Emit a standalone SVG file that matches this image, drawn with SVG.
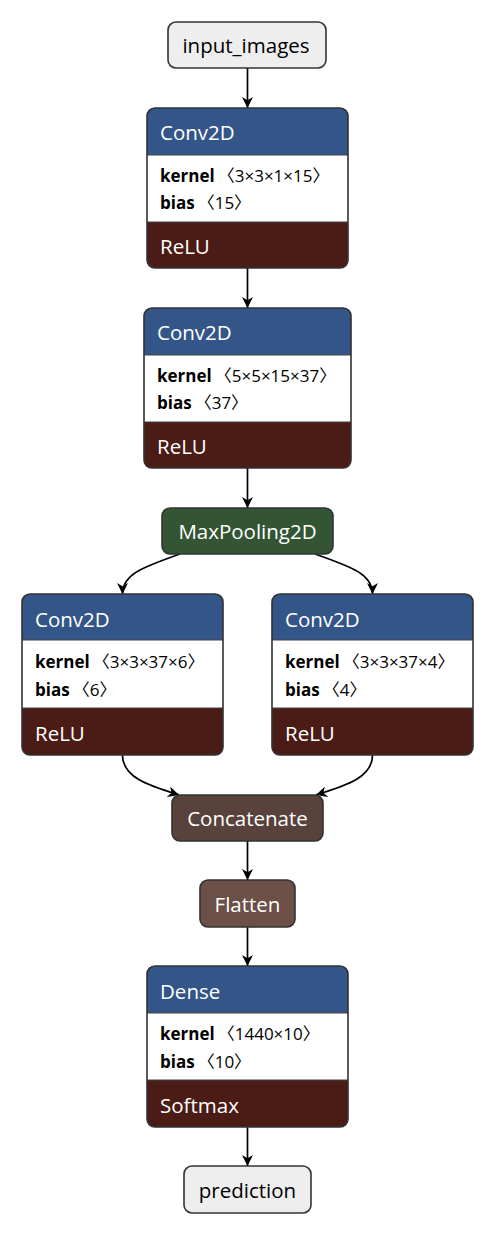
<svg xmlns="http://www.w3.org/2000/svg" width="496" height="1236" viewBox="0 0 496 1236">
<style>
text{font-family:"Open Sans","Noto Sans CJK SC",sans-serif}
.t{font-size:20.5px;fill:#fff}
.tc{font-size:20.5px;fill:#000;text-anchor:middle}
.tw{font-size:20.5px;fill:#fff;text-anchor:middle}
.a{font-size:17px;fill:#000}
.a .n{font-weight:bold}
.hd{fill:#335588}
.ac{fill:#4b1b16}
.bd{fill:none;stroke:#333;stroke-width:1.6}
.sep{stroke:#444;stroke-width:1.2}
.io{fill:#eeeeee;stroke:#333;stroke-width:1.6}
.edge{fill:none;stroke:#000;stroke-width:1.7}
</style>
<defs>
<marker id="arr" viewBox="0 0 10 10" refX="10" refY="5" markerWidth="11" markerHeight="11" markerUnits="userSpaceOnUse" orient="auto">
<path d="M0,0 L10,5 L0,10 L3,5 Z" fill="#000"/>
</marker>
</defs>
<g id="connectors">
<path class="edge" d="M247.5,68 V108" marker-end="url(#arr)"/>
<path class="edge" d="M247.5,268 V308" marker-end="url(#arr)"/>
<path class="edge" d="M247.5,468 V508" marker-end="url(#arr)"/>
<path class="edge" d="M180,554 C140,568 122.5,575 122.5,594" marker-end="url(#arr)"/>
<path class="edge" d="M315,554 C355,568 372.5,575 372.5,594" marker-end="url(#arr)"/>
<path class="edge" d="M122.5,755 C122.5,778 150,786 179,795" marker-end="url(#arr)"/>
<path class="edge" d="M372.5,755 C372.5,778 345,786 316,795" marker-end="url(#arr)"/>
<path class="edge" d="M247.5,841 V880" marker-end="url(#arr)"/>
<path class="edge" d="M247.5,927 V966" marker-end="url(#arr)"/>
<path class="edge" d="M247.5,1127 V1166" marker-end="url(#arr)"/>
</g>
<g id="input_images">
<rect class="io" x="168" y="22" width="158" height="46" rx="8"/>
<text class="tc" x="246" y="53">input_images</text>
</g>
<g id="conv2d_1">
<path class="hd" d="M147,155 V116 Q147,108 155,108 H340 Q348,108 348,116 V155 Z"/>
<rect x="147" y="155" width="201" height="67" fill="#fff"/>
<path class="ac" d="M147,222 H348 V260 Q348,268 340,268 H155 Q147,268 147,260 Z"/>
<line class="sep" x1="147" y1="155" x2="348" y2="155"/>
<line class="sep" x1="147" y1="222" x2="348" y2="222"/>
<rect class="bd" x="147" y="108" width="201" height="160" rx="8"/>
<text class="t" x="160" y="140">Conv2D</text>
<text class="a" x="160" y="182"><tspan class="n">kernel</tspan><tspan dx="3">〈3×3×1×15〉</tspan></text>
<text class="a" x="160" y="209"><tspan class="n">bias</tspan><tspan dx="3">〈15〉</tspan></text>
<text class="t" x="160" y="254">ReLU</text>
</g>
<g id="conv2d_2">
<path class="hd" d="M144,355 V316 Q144,308 152,308 H343 Q351,308 351,316 V355 Z"/>
<rect x="144" y="355" width="207" height="67" fill="#fff"/>
<path class="ac" d="M144,422 H351 V460 Q351,468 343,468 H152 Q144,468 144,460 Z"/>
<line class="sep" x1="144" y1="355" x2="351" y2="355"/>
<line class="sep" x1="144" y1="422" x2="351" y2="422"/>
<rect class="bd" x="144" y="308" width="207" height="160" rx="8"/>
<text class="t" x="157" y="340">Conv2D</text>
<text class="a" x="157" y="382"><tspan class="n">kernel</tspan><tspan dx="3">〈5×5×15×37〉</tspan></text>
<text class="a" x="157" y="409"><tspan class="n">bias</tspan><tspan dx="3">〈37〉</tspan></text>
<text class="t" x="157" y="454">ReLU</text>
</g>
<g id="maxpooling2d">
<rect x="162" y="508" width="171" height="46" rx="8" fill="#335533" stroke="#333" stroke-width="1.6"/>
<text class="tw" x="247.5" y="539">MaxPooling2D</text>
</g>
<g id="conv2d_left">
<path class="hd" d="M22,640 V602 Q22,594 30,594 H215 Q223,594 223,602 V640 Z"/>
<rect x="22" y="640" width="201" height="68" fill="#fff"/>
<path class="ac" d="M22,708 H223 V747 Q223,755 215,755 H30 Q22,755 22,747 Z"/>
<line class="sep" x1="22" y1="640" x2="223" y2="640"/>
<line class="sep" x1="22" y1="708" x2="223" y2="708"/>
<rect class="bd" x="22" y="594" width="201" height="161" rx="8"/>
<text class="t" x="35" y="627">Conv2D</text>
<text class="a" x="35" y="668"><tspan class="n">kernel</tspan><tspan dx="3">〈3×3×37×6〉</tspan></text>
<text class="a" x="35" y="696"><tspan class="n">bias</tspan><tspan dx="3">〈6〉</tspan></text>
<text class="t" x="35" y="741">ReLU</text>
</g>
<g id="conv2d_right">
<path class="hd" d="M272,640 V602 Q272,594 280,594 H465 Q473,594 473,602 V640 Z"/>
<rect x="272" y="640" width="201" height="68" fill="#fff"/>
<path class="ac" d="M272,708 H473 V747 Q473,755 465,755 H280 Q272,755 272,747 Z"/>
<line class="sep" x1="272" y1="640" x2="473" y2="640"/>
<line class="sep" x1="272" y1="708" x2="473" y2="708"/>
<rect class="bd" x="272" y="594" width="201" height="161" rx="8"/>
<text class="t" x="285" y="627">Conv2D</text>
<text class="a" x="285" y="668"><tspan class="n">kernel</tspan><tspan dx="3">〈3×3×37×4〉</tspan></text>
<text class="a" x="285" y="696"><tspan class="n">bias</tspan><tspan dx="3">〈4〉</tspan></text>
<text class="t" x="285" y="741">ReLU</text>
</g>
<g id="concatenate">
<rect x="172" y="795" width="151" height="46" rx="8" fill="#59423b" stroke="#333" stroke-width="1.6"/>
<text class="tw" x="247.5" y="826">Concatenate</text>
</g>
<g id="flatten">
<rect x="200" y="880" width="95" height="47" rx="8" fill="#6c4f47" stroke="#333" stroke-width="1.6"/>
<text class="tw" x="247.5" y="912">Flatten</text>
</g>
<g id="dense">
<path class="hd" d="M147,1013 V974 Q147,966 155,966 H340 Q348,966 348,974 V1013 Z"/>
<rect x="147" y="1013" width="201" height="67" fill="#fff"/>
<path class="ac" d="M147,1080 H348 V1119 Q348,1127 340,1127 H155 Q147,1127 147,1119 Z"/>
<line class="sep" x1="147" y1="1013" x2="348" y2="1013"/>
<line class="sep" x1="147" y1="1080" x2="348" y2="1080"/>
<rect class="bd" x="147" y="966" width="201" height="161" rx="8"/>
<text class="t" x="160" y="999">Dense</text>
<text class="a" x="160" y="1040"><tspan class="n">kernel</tspan><tspan dx="3">〈1440×10〉</tspan></text>
<text class="a" x="160" y="1068"><tspan class="n">bias</tspan><tspan dx="3">〈10〉</tspan></text>
<text class="t" x="160" y="1113">Softmax</text>
</g>
<g id="prediction">
<rect class="io" x="184" y="1166" width="127" height="47" rx="8"/>
<text class="tc" x="247.5" y="1198">prediction</text>
</g>
</svg>
